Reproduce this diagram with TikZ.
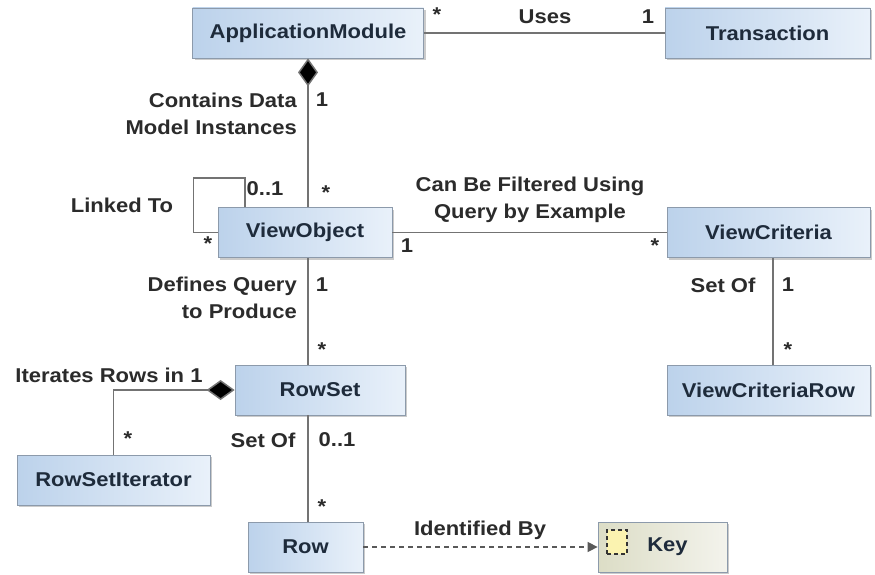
\documentclass[tikz,border=0pt]{standalone}
\usepackage{fontspec}
\setmainfont{Liberation Sans}[FakeStretch=1.1]
\usetikzlibrary{arrows.meta,shadows,calc}
\definecolor{boxL}{HTML}{BCD2EB}
\definecolor{boxR}{HTML}{E9F1FA}
\definecolor{boxD}{HTML}{8C9AAB}
\definecolor{txt}{HTML}{1E2B3B}
\definecolor{lbl}{HTML}{2B2B2B}
\definecolor{keyL}{HTML}{DCDDC6}
\definecolor{keyR}{HTML}{F3F3EC}
\definecolor{keyY}{HTML}{FBF3B0}
\begin{document}
\begin{tikzpicture}[x=1pt,y=-1pt,
  cls/.style={draw=boxD, line width=0.8pt, left color=boxL, right color=boxR,
    font=\fontsize{20}{24}\selectfont\bfseries, text=txt,
    drop shadow={shadow xshift=2pt,shadow yshift=-2pt,fill=black!40},
    inner sep=0pt, minimum height=50pt},
  keycls/.style={cls, left color=keyL, right color=keyR},
  lab/.style={font=\fontsize{20}{27}\selectfont\bfseries, text=lbl, inner sep=0pt},
  conn/.style={draw=black!55, line width=1.5pt},
  comp/.style={conn, {Diamond[length=28pt,width=20pt,fill=black]}-},
  dep/.style={conn, draw=black!65, dash pattern=on 5pt off 4pt, line width=1.4pt, -{Triangle[length=10pt,width=10pt]}},
]
\useasboundingbox (0,0) rectangle (875,575);
\fill[white] (0,0) rectangle (875,575);

% classes
\node[cls, minimum width=231pt] (am) at (308,33) {ApplicationModule};
\node[cls, minimum width=205pt] (tr) at (767.5,33) {Transaction};
\node[cls, minimum width=174pt] (vo) at (305,232.5) {ViewObject};
\node[cls, minimum width=203pt] (vc) at (768.5,232.5) {ViewCriteria};
\node[cls, minimum width=203pt] (vcr) at (768.5,390) {ViewCriteriaRow};
\node[cls, minimum width=170pt] (rs) at (320,390) {RowSet};
\node[cls, minimum width=193pt] (rsi) at (113.5,480) {RowSetIterator};
\node[cls, minimum width=115pt] (row) at (305.5,547) {Row};
\node[keycls, minimum width=129pt] (key) at (662.5,547) {\hspace*{10pt}Key};
\node[draw=black!80, dash pattern=on 4pt off 3pt, line width=1.8pt, fill=keyY, minimum width=20pt, minimum height=24pt, inner sep=0pt] (keyicon) at (617,542) {};

% connectors
\draw[conn] (am) -- (tr);
\draw[comp] (am.south) -- (am.south |- vo.north);
\draw[conn] ([xshift=-60pt]vo.north) -- ++(0,-29) -| ([xshift=-24pt]vo.west) -- (vo.west);
\draw[conn] (vo) -- (vc);
\draw[conn] (vo.south -| am.south) -- (rs.north -| am.south);
\draw[conn] (vc.south -| 773,0) -- (vcr.north -| 773,0);
\draw[comp] (rs.west) -| (rsi.north);
\draw[conn] (rs.south -| am.south) -- (row.north -| am.south);
\draw[dep] (row) -- (key);

% labels
\node[lab] (l1) at (545,17) {Uses};
\node[lab] (m1) at (437,15) {*};
\node[lab] (m2) at (648,17) {1};
\node[lab, align=right, anchor=east] (l2) at (297,114) {Contains Data\\Model Instances};
\node[lab] (m3) at (322,100) {1};
\node[lab] (m4) at (326,193) {*};
\node[lab] (l3) at (122,205) {Linked To};
\node[lab] (m5) at (265,189) {0..1};
\node[lab] (m6) at (208,244) {*};
\node[lab, align=center] (l4) at (530,200) {Can Be Filtered Using\\Query by Example};
\node[lab] (m7) at (407,246) {1};
\node[lab] (m8) at (655,246) {*};
\node[lab, align=right, anchor=east] (l5) at (297,298) {Defines Query\\to Produce};
\node[lab] (m9) at (322,285) {1};
\node[lab] (m10) at (322,350) {*};
\node[lab] (l6) at (723,285) {Set Of};
\node[lab] (m11) at (788,285) {1};
\node[lab] (m12) at (788,350) {*};
\node[lab] (l7) at (109,375) {Iterates Rows in 1};
\node[lab] (m13) at (128,439) {*};
\node[lab] (l8) at (263,440) {Set Of};
\node[lab] (m14) at (337,440) {0..1};
\node[lab] (m15) at (322,507) {*};
\node[lab] (l9) at (480,530) {Identified By};
\end{tikzpicture}
\end{document}
